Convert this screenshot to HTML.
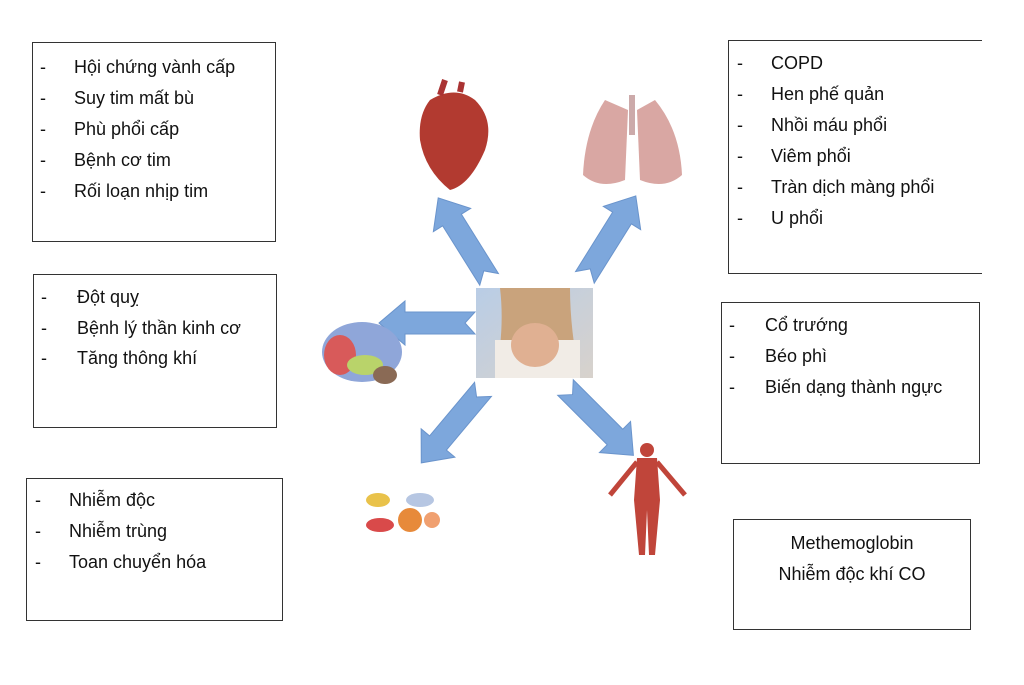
<!DOCTYPE html>
<html><head><meta charset="utf-8"><style>
body{margin:0;width:1024px;height:685px;background:#fff;position:relative;overflow:hidden;font-family:"Liberation Sans","DejaVu Sans",sans-serif;color:#111}
.b{position:absolute;border:1.5px solid #333;box-sizing:border-box}
.t{position:absolute;font-size:18px;line-height:20px;white-space:nowrap}
</style></head><body>
<div class="b" style="left:32px;top:42px;width:244px;height:200px"></div>
<div class="b" style="left:728px;top:40px;width:254px;height:234px;border-right:none"></div>
<div class="b" style="left:33px;top:274px;width:244px;height:154px"></div>
<div class="b" style="left:721px;top:302px;width:259px;height:162px"></div>
<div class="b" style="left:26px;top:478px;width:257px;height:143px"></div>
<div class="b" style="left:733px;top:519px;width:238px;height:111px"></div>

<div class="t" style="left:40px;top:57px">-</div><div class="t" style="left:74px;top:57px">Hội chứng vành cấp</div>
<div class="t" style="left:40px;top:88px">-</div><div class="t" style="left:74px;top:88px">Suy tim mất bù</div>
<div class="t" style="left:40px;top:119px">-</div><div class="t" style="left:74px;top:119px">Phù phổi cấp</div>
<div class="t" style="left:40px;top:150px">-</div><div class="t" style="left:74px;top:150px">Bệnh cơ tim</div>
<div class="t" style="left:40px;top:181px">-</div><div class="t" style="left:74px;top:181px">Rối loạn nhịp tim</div>

<div class="t" style="left:737px;top:53px">-</div><div class="t" style="left:771px;top:53px">COPD</div>
<div class="t" style="left:737px;top:84px">-</div><div class="t" style="left:771px;top:84px">Hen phế quản</div>
<div class="t" style="left:737px;top:115px">-</div><div class="t" style="left:771px;top:115px">Nhồi máu phổi</div>
<div class="t" style="left:737px;top:146px">-</div><div class="t" style="left:771px;top:146px">Viêm phổi</div>
<div class="t" style="left:737px;top:177px">-</div><div class="t" style="left:771px;top:177px">Tràn dịch màng phổi</div>
<div class="t" style="left:737px;top:208px">-</div><div class="t" style="left:771px;top:208px">U phổi</div>

<div class="t" style="left:41px;top:287px">-</div><div class="t" style="left:77px;top:287px">Đột quỵ</div>
<div class="t" style="left:41px;top:318px">-</div><div class="t" style="left:77px;top:318px">Bệnh lý thần kinh cơ</div>
<div class="t" style="left:41px;top:348px">-</div><div class="t" style="left:77px;top:348px">Tăng thông khí</div>

<div class="t" style="left:729px;top:315px">-</div><div class="t" style="left:765px;top:315px">Cổ trướng</div>
<div class="t" style="left:729px;top:346px">-</div><div class="t" style="left:765px;top:346px">Béo phì</div>
<div class="t" style="left:729px;top:377px">-</div><div class="t" style="left:765px;top:377px">Biến dạng thành ngực</div>

<div class="t" style="left:35px;top:490px">-</div><div class="t" style="left:69px;top:490px">Nhiễm độc</div>
<div class="t" style="left:35px;top:521px">-</div><div class="t" style="left:69px;top:521px">Nhiễm trùng</div>
<div class="t" style="left:35px;top:552px">-</div><div class="t" style="left:69px;top:552px">Toan chuyển hóa</div>

<div class="t" style="left:733px;width:238px;text-align:center;top:533px">Methemoglobin</div>
<div class="t" style="left:733px;width:238px;text-align:center;top:564px">Nhiễm độc khí CO</div>

<svg width="1024" height="685" style="position:absolute;left:0;top:0">
<defs>
<g id="ar"><polygon points="0,-11 -70,-11 -60,0 -70,11 0,11 0,22 26,0 0,-22" fill="#7da7dc" stroke="#6a94cc" stroke-width="1"/></g>
<linearGradient id="ph" x1="0" y1="0" x2="1" y2="1"><stop offset="0" stop-color="#b9cde6"/><stop offset="1" stop-color="#d8d2cc"/></linearGradient>
</defs>
<use href="#ar" transform="translate(452,220) rotate(-122)"/>
<use href="#ar" transform="translate(622,218) rotate(-58)"/>
<use href="#ar" transform="translate(405,323) rotate(180)"/>
<use href="#ar" transform="translate(438,443) rotate(130)"/>
<use href="#ar" transform="translate(615,437) rotate(45)"/>
<!-- center photo -->
<rect x="476" y="288" width="117" height="90" fill="url(#ph)"/>
<path d="M500,288 Q505,330 495,378 L580,378 Q570,330 570,288Z" fill="#c9a37c"/>
<rect x="495" y="340" width="85" height="38" fill="#f1ece6"/>
<ellipse cx="535" cy="345" rx="24" ry="22" fill="#e0b092"/>
<!-- heart -->
<path d="M430,100 Q455,85 475,100 Q495,120 485,150 Q470,185 450,190 Q425,170 420,140 Q418,115 430,100Z" fill="#b23a30"/>
<path d="M440,95 L445,80 M460,92 L462,82" stroke="#a33" stroke-width="6"/>
<!-- lungs -->
<path d="M605,100 Q585,130 583,175 Q600,190 625,180 L628,110Z" fill="#d9a7a3"/>
<path d="M655,100 Q680,130 682,175 Q665,190 640,180 L637,110Z" fill="#d9a7a3"/>
<rect x="629" y="95" width="6" height="40" fill="#caa"/>
<!-- brain -->
<ellipse cx="362" cy="352" rx="40" ry="30" fill="#8fa6d9"/>
<ellipse cx="340" cy="355" rx="16" ry="20" fill="#d85a5a"/>
<ellipse cx="365" cy="365" rx="18" ry="10" fill="#b9d36a"/>
<ellipse cx="385" cy="375" rx="12" ry="9" fill="#8a6a55"/>
<!-- pills -->
<ellipse cx="378" cy="500" rx="12" ry="7" fill="#e9c24a"/>
<ellipse cx="410" cy="520" rx="12" ry="12" fill="#e78a3a"/>
<ellipse cx="380" cy="525" rx="14" ry="7" fill="#d94a4a"/>
<ellipse cx="420" cy="500" rx="14" ry="7" fill="#b6c6e2"/>
<circle cx="432" cy="520" r="8" fill="#f0a070"/>
<!-- body -->
<circle cx="647" cy="450" r="7" fill="#c0453a"/>
<path d="M637,458 L657,458 L660,500 L655,555 L649,555 L647,510 L645,555 L639,555 L634,500Z" fill="#c0453a"/>
<path d="M637,462 L610,495 M657,462 L685,495" stroke="#c0453a" stroke-width="5"/>
</svg>
</body></html>
